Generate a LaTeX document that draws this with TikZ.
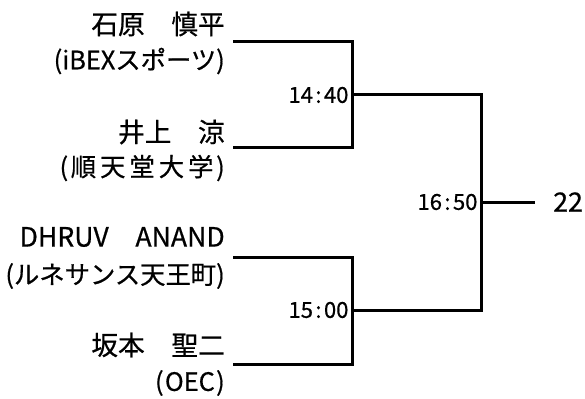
\documentclass[tikz,border=0pt]{standalone}
\usepackage{fontspec}
\setmainfont{Noto Sans CJK JP}[FakeBold=0.6]
\newcommand{\hhmm}[2]{#1\makebox[0.5em]{:}#2}
\tikzset{
  pname/.style={anchor=east, inner sep=0pt, font=\fontsize{20}{20}\selectfont},
  pclub/.style={anchor=east, inner sep=0pt, font=\fontsize{19}{19}\selectfont},
  tlabel/.style={anchor=east, inner sep=2.5pt, font=\fontsize{16.5}{16.5}\selectfont},
  bline/.style={line width=2.25pt},
}

\begin{document}
\begin{tikzpicture}[x=0.75pt,y=0.75pt,yscale=-1,xscale=1]
    \useasboundingbox (0,0) rectangle (585,399);

    % Text Node
    \draw (225,24) node [pname] (n1) {石原　慎平};
    % Text Node
    \draw (225,61) node [pclub] (c1) {(iBEXスポーツ)};
    % Text Node
    \draw (225,132) node [pname] (n2) {井上　涼};
    % Text Node
    \draw (225,168) node [pclub] (c2) {(\kern2pt 順\kern3pt 天\kern3pt 堂\kern3pt 大\kern3pt 学\kern2pt)};
    % Text Node
    \draw (225,237) node [pname] (n3) {DHRUV　ANAND};
    % Text Node
    \draw (225,276) node [pclub] (c3) {(ルネサンス天王町)};
    % Text Node
    \draw (225,345) node [pname] (n4) {坂本　聖二};
    % Text Node
    \draw (225,383) node [pclub] (c4) {(\kern1pt OEC\kern1pt)};

    %Bracket starts
    \coordinate (p1) at (233,42);
    \coordinate (p2) at (233,148);
    \coordinate (p3) at (233,257);
    \coordinate (p4) at (233,364);

    % Time Nodes
    \draw (352,95) node [tlabel] (m1) {\hhmm{14}{40}};
    \draw (352,310) node [tlabel] (m2) {\hhmm{15}{00}};
    \draw (481,202) node [tlabel] (m3) {\hhmm{16}{50}};
    % Text Node
    \draw (553,202) node [anchor=west, inner sep=0pt, font=\fontsize{20}{20}\selectfont] (w) {22};

    %Bracket Lines
    \draw [bline] (p1) -| (m1.east) ;
    \draw [bline] (p2) -| (m1.east) ;
    \draw [bline] (p3) -| (m2.east) ;
    \draw [bline] (p4) -| (m2.east) ;
    \draw [bline] (m1.east) -| (m3.east) ;
    \draw [bline] (m2.east) -| (m3.east) ;
    \draw [bline, shorten >=13.5pt] (m3.east) -- (w.west) ;

\end{tikzpicture}
\end{document}
